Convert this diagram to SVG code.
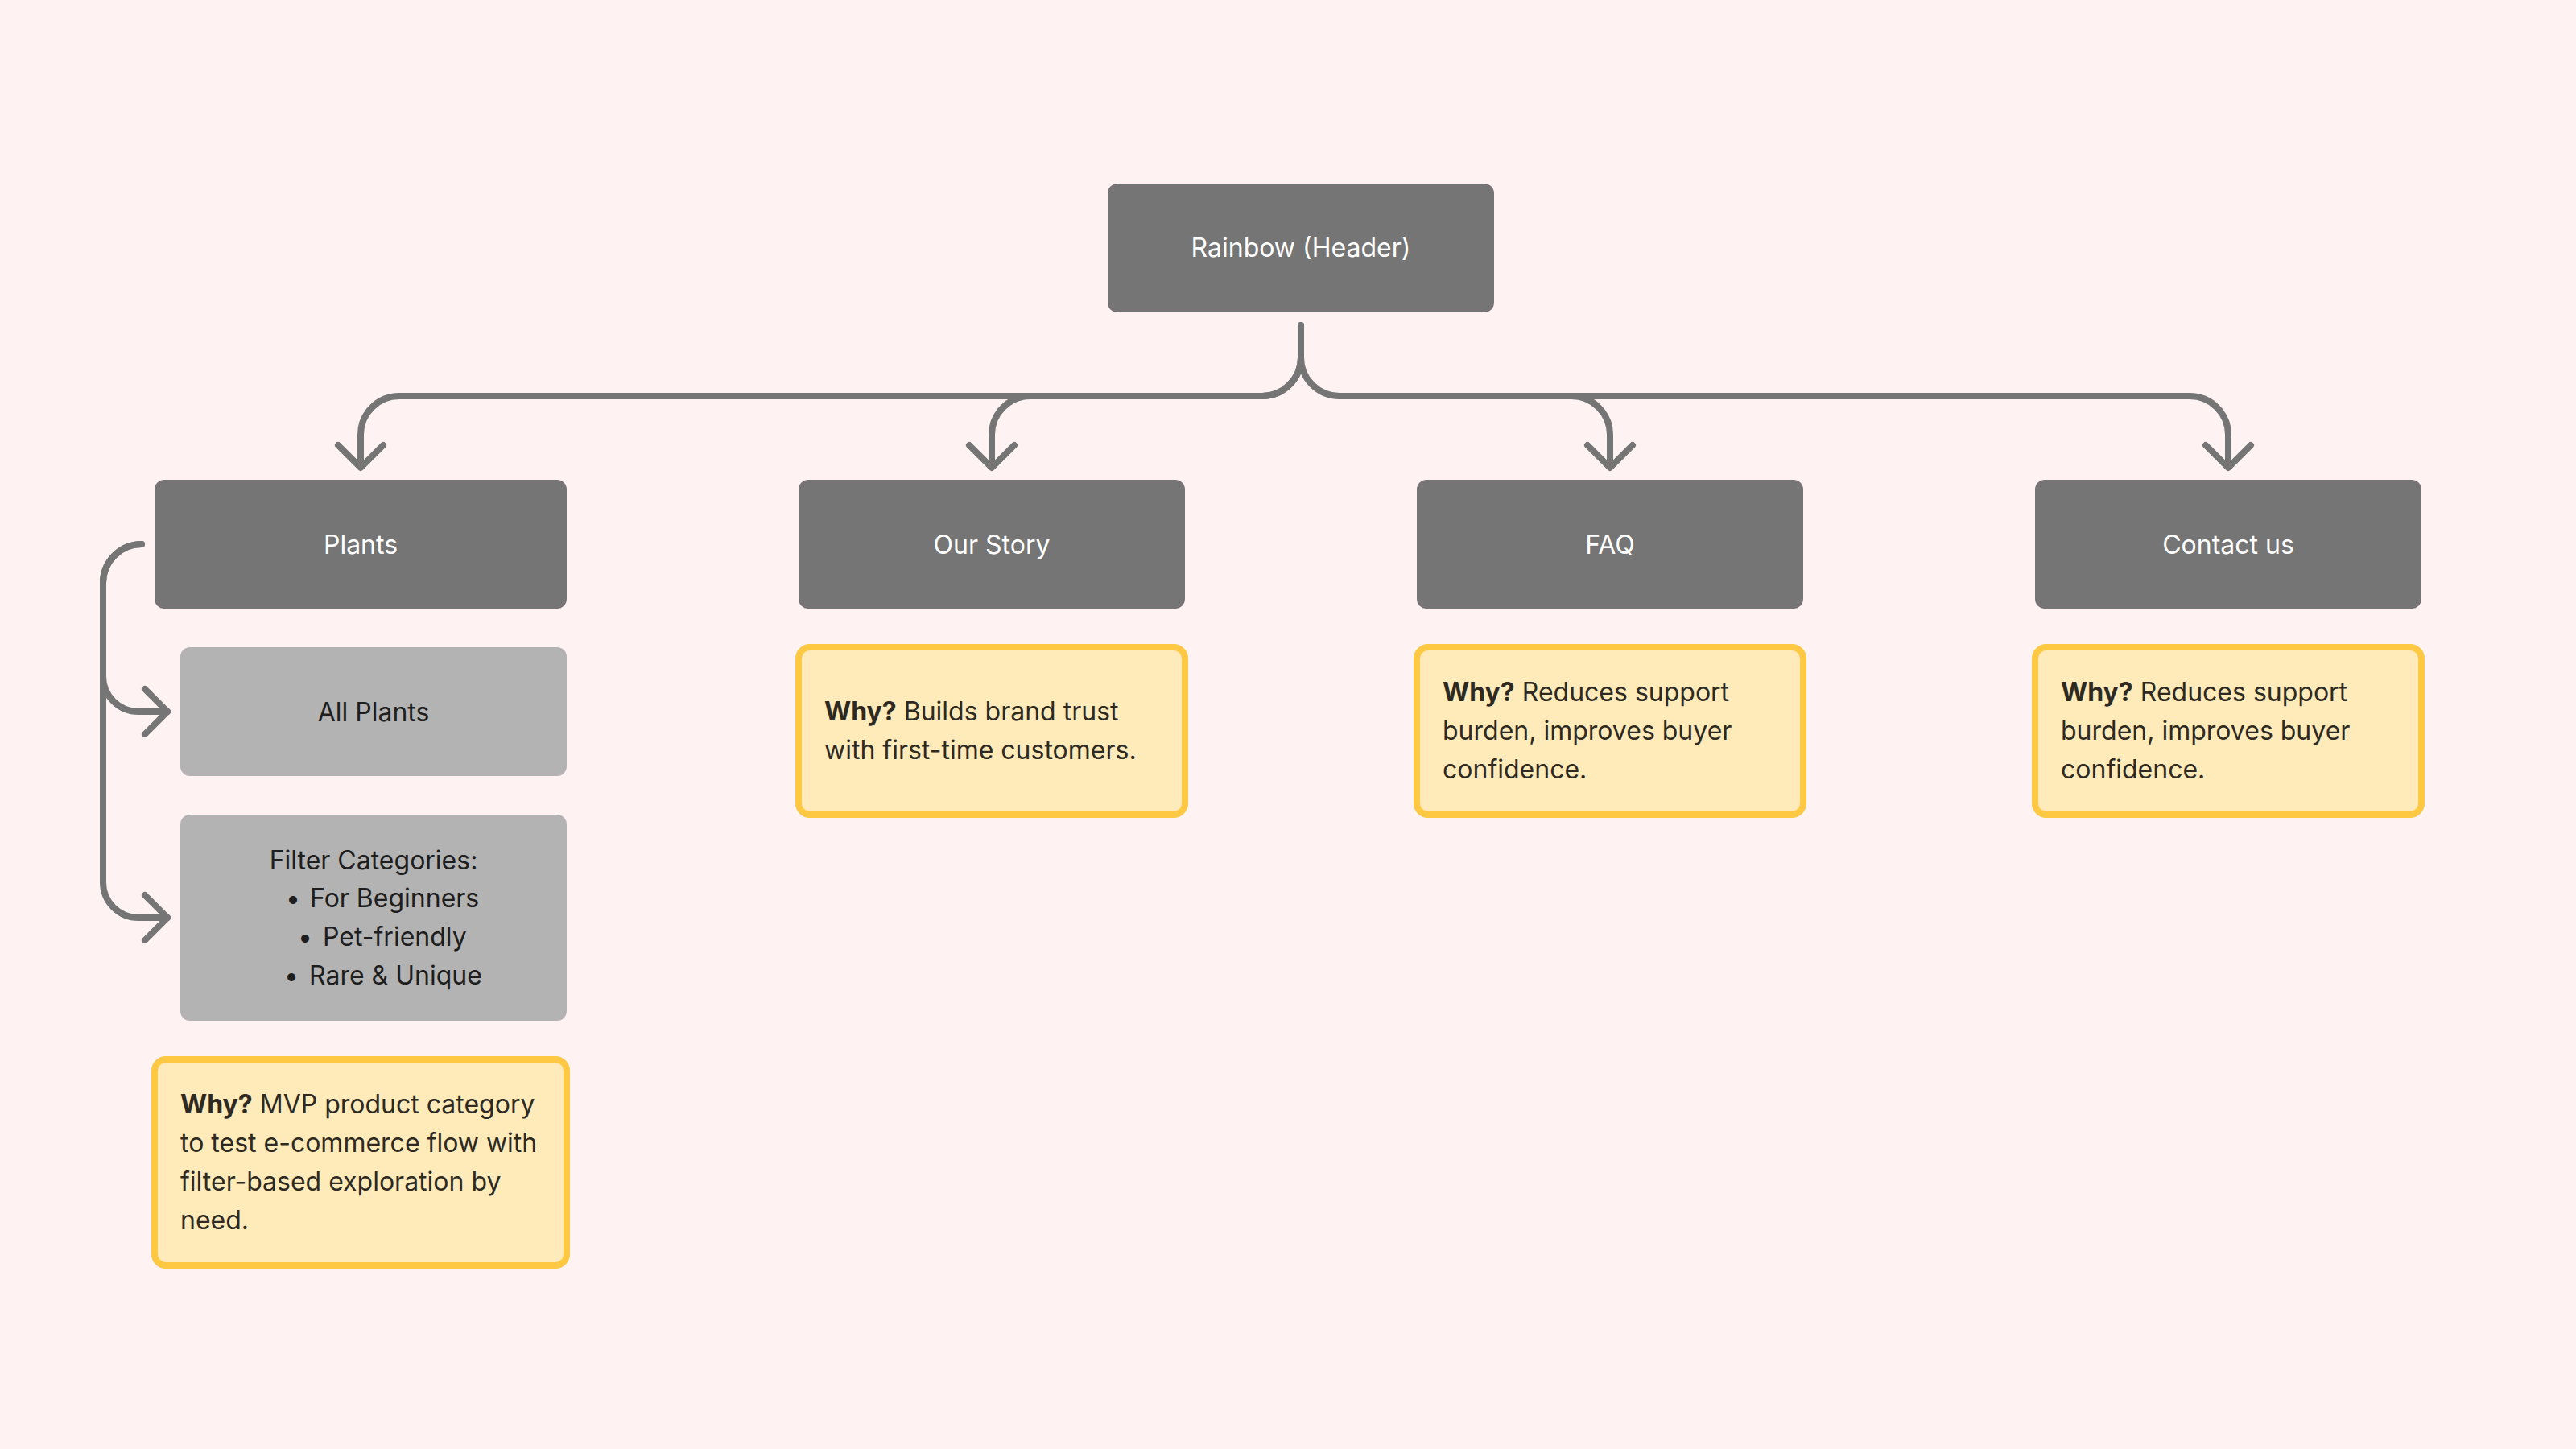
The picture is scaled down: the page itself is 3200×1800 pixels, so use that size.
<svg xmlns="http://www.w3.org/2000/svg" width="3200" height="1800" viewBox="0 0 3200 1800">
<style>
.bg{fill:#FEF2F2}
.dark{fill:#757575}
.light{fill:#B3B3B3}
.note{fill:#FFEBBA;stroke:#FFC843;stroke-width:8}
.wt{font-family:Inter,"Noto Sans","Liberation Sans",sans-serif;font-size:32px;fill:#FFFFFF;text-anchor:middle}
.dt{font-family:Inter,"Noto Sans","Liberation Sans",sans-serif;font-size:32px;fill:#1E1E1E}
.nt{font-family:Inter,"Noto Sans","Liberation Sans",sans-serif;font-size:32px;fill:#2E2A22}
.b{font-weight:700}
.c{fill:none;stroke:#757575;stroke-width:8;stroke-linecap:round;stroke-linejoin:round}
</style>
<rect class="bg" x="0" y="0" width="3200" height="1800"/>
<g id="connectors">
<path class="c" d="M1616 404 V444 A48 48 0 0 1 1568 492 H496 A48 48 0 0 0 448 540 V580"/>
<path class="c" d="M420 553 L448 581 L476 553"/>
<path class="c" d="M1616 444 A48 48 0 0 1 1568 492 H1280 A48 48 0 0 0 1232 540 V580"/>
<path class="c" d="M1204 553 L1232 581 L1260 553"/>
<path class="c" d="M1616 404 V444 A48 48 0 0 0 1664 492 H1952 A48 48 0 0 1 2000 540 V580"/>
<path class="c" d="M1972 553 L2000 581 L2028 553"/>
<path class="c" d="M1664 492 H2720 A48 48 0 0 1 2768 540 V580"/>
<path class="c" d="M2740 553 L2768 581 L2796 553"/>
<path class="c" d="M176 676 A48 48 0 0 0 128 724 V840 A44 44 0 0 0 172 884 H208"/>
<path class="c" d="M180 856 L208 884 L180 912"/>
<path class="c" d="M176 676 A48 48 0 0 0 128 724 V1096 A44 44 0 0 0 172 1140 H208"/>
<path class="c" d="M180 1112 L208 1140 L180 1168"/>
</g>
<g id="header">
<rect class="dark" x="1376" y="228" width="480" height="160" rx="12"/>
<text class="wt" x="1616" y="319">Rainbow (Header)</text>
</g>
<g id="plants">
<rect class="dark" x="192" y="596" width="512" height="160" rx="12"/>
<text class="wt" x="448" y="688">Plants</text>
</g>
<g id="all-plants">
<rect class="light" x="224" y="804" width="480" height="160" rx="12"/>
<text class="dt" x="464" y="896" text-anchor="middle">All Plants</text>
</g>
<g id="filter-categories">
<rect class="light" x="224" y="1012" width="480" height="256" rx="12"/>
<text class="dt" x="464" y="1080" text-anchor="middle">Filter Categories:</text>
<text class="dt" x="355" y="1127">•</text><text class="dt" x="385" y="1127">For Beginners</text>
<text class="dt" x="370" y="1175">•</text><text class="dt" x="401" y="1175">Pet-friendly</text>
<text class="dt" x="353" y="1223">•</text><text class="dt" x="384" y="1223">Rare &amp; Unique</text>
</g>
<g id="plants-why">
<rect class="note" x="192" y="1316" width="512" height="256" rx="14"/>
<text class="nt" x="224" y="1383"><tspan class="b">Why?</tspan> MVP product category</text>
<text class="nt" x="224" y="1431">to test e-commerce flow with</text>
<text class="nt" x="224" y="1479">filter-based exploration by</text>
<text class="nt" x="224" y="1527">need.</text>
</g>
<g id="our-story">
<rect class="dark" x="992" y="596" width="480" height="160" rx="12"/>
<text class="wt" x="1232" y="688">Our Story</text>
</g>
<g id="our-story-why">
<rect class="note" x="992" y="804" width="480" height="208" rx="14"/>
<text class="nt" x="1024" y="895"><tspan class="b">Why?</tspan> Builds brand trust</text>
<text class="nt" x="1024" y="943">with first-time customers.</text>
</g>
<g id="faq">
<rect class="dark" x="1760" y="596" width="480" height="160" rx="12"/>
<text class="wt" x="2000" y="688">FAQ</text>
</g>
<g id="faq-why">
<rect class="note" x="1760" y="804" width="480" height="208" rx="14"/>
<text class="nt" x="1792" y="871"><tspan class="b">Why?</tspan> Reduces support</text>
<text class="nt" x="1792" y="919">burden, improves buyer</text>
<text class="nt" x="1792" y="967">confidence.</text>
</g>
<g id="contact-us">
<rect class="dark" x="2528" y="596" width="480" height="160" rx="12"/>
<text class="wt" x="2768" y="688">Contact us</text>
</g>
<g id="contact-why">
<rect class="note" x="2528" y="804" width="480" height="208" rx="14"/>
<text class="nt" x="2560" y="871"><tspan class="b">Why?</tspan> Reduces support</text>
<text class="nt" x="2560" y="919">burden, improves buyer</text>
<text class="nt" x="2560" y="967">confidence.</text>
</g>
</svg>
